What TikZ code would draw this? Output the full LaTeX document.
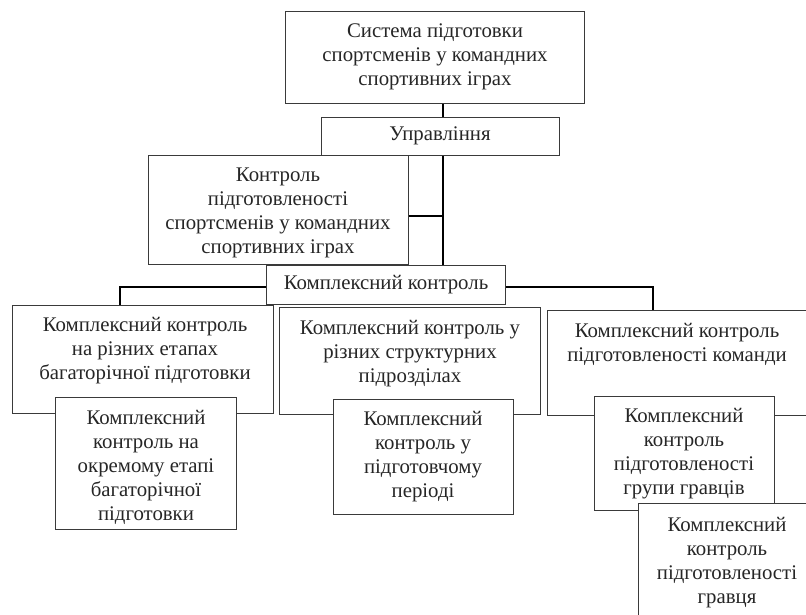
\documentclass[tikz,border=0pt]{standalone}
\usepackage{fontspec}
\setmainfont{Liberation Serif}
\definecolor{boxgray}{HTML}{3A3A3A}
\definecolor{txtgray}{HTML}{262626}
\tikzset{
  box/.style={draw=boxgray, line width=0.9pt, fill=white, inner sep=0pt, anchor=north west},
  txt/.style={align=center, inner sep=0pt, text=txtgray, font=\fontsize{20.8}{24}\selectfont},
  conn/.style={draw=black, line width=1.7pt}
}
\begin{document}
\begin{tikzpicture}[x=1pt,y=-1pt]
\useasboundingbox (0,0) rectangle (806,614);
\clip (0,0) rectangle (806,614);
\fill[white] (0,0) rectangle (806,614);
% boxes
\node[box, minimum width=299pt, minimum height=92pt] (top) at (285,11) {};
\node[txt] (toptxt) at (435,57) {Система підготовки\\спортсменів у командних\\спортивних іграх};
\node[box, minimum width=238pt, minimum height=38pt] (upr) at (321,117) {};
\node[txt] (uprtxt) at (440,136) {Управління};
\node[box, minimum width=260pt, minimum height=109pt] (ktr) at (148,155) {};
\node[txt] (ktrtxt) at (278,213) {Контроль\\підготовленості\\спортсменів у командних\\спортивних іграх};
\node[box, minimum width=239pt, minimum height=39pt] (kk) at (266,265) {};
\node[txt] (kktxt) at (386,285) {Комплексний контроль};
% level 3
\node[box, minimum width=261pt, minimum height=108pt] (b1) at (12,305) {};
\node[txt] (b1txt) at (145,351) {Комплексний контроль\\на різних етапах\\багаторічної підготовки};
\node[box, minimum width=181pt, minimum height=132pt] (b1a) at (55,397) {};
\node[txt] (b1atxt) at (146,467) {Комплексний\\контроль на\\окремому етапі\\багаторічної\\підготовки};
\node[box, minimum width=261pt, minimum height=107pt] (b2) at (279,307) {};
\node[txt] (b2txt) at (410,354) {Комплексний контроль у\\різних структурних\\підрозділах};
\node[box, minimum width=180pt, minimum height=115pt] (b2a) at (333,399) {};
\node[txt] (b2atxt) at (423,457) {Комплексний\\контроль у\\підготовчому\\періоді};
\node[box, minimum width=262pt, minimum height=105pt] (b3) at (547,310) {};
\node[txt] (b3txt) at (677,344) {Комплексний контроль\\підготовленості команди};
\node[box, minimum width=180pt, minimum height=114pt] (b3a) at (594,396) {};
\node[txt] (b3atxt) at (684,454) {Комплексний\\контроль\\підготовленості\\групи гравців};
\node[box, minimum width=180pt, minimum height=118pt] (b3b) at (638,503) {};
\node[txt] (b3btxt) at (727,563) {Комплексний\\контроль\\підготовленості\\гравця};
% connectors
\coordinate (j) at (443,216);
\draw[conn] (top.south -| j) -- (upr.north -| j);
\draw[conn] (upr.south -| j) -- (kk.north -| j);
\draw[conn] (ktr.east |- j) -- (j);
\draw[conn] (kk.west |- 0,287) -| (b1.north -| 120,0);
\draw[conn] (kk.east |- 0,287) -| (b3.north -| 653,0);
\end{tikzpicture}
\end{document}
